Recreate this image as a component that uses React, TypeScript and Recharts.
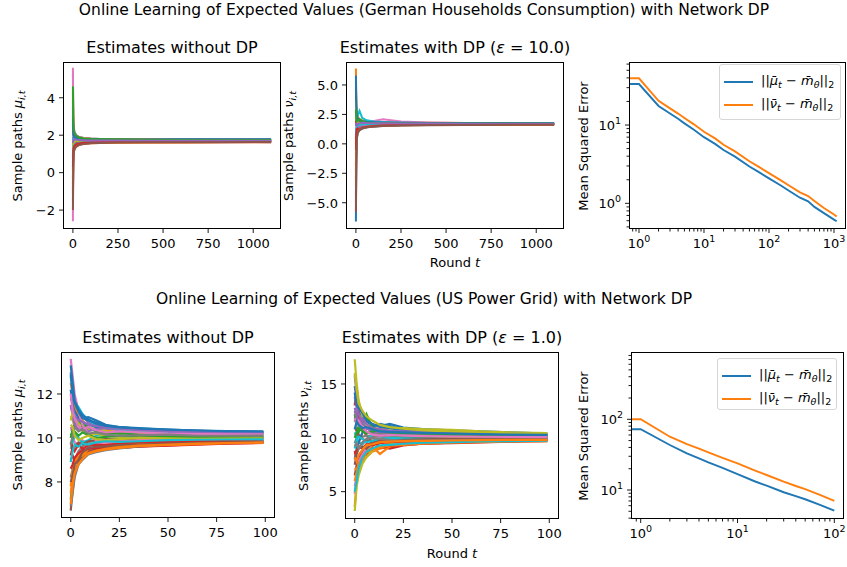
import React from 'react';
import { LineChart, Line, XAxis, YAxis } from 'recharts';

const FONT = '"DejaVu Sans", sans-serif';
const TAB10 = ['#1f77b4', '#ff7f0e', '#2ca02c', '#d62728', '#9467bd', '#8c564b', '#e377c2', '#7f7f7f', '#bcbd22', '#17becf'];

// ---- German households: sample paths (rounds 0..1099)
const tTop = [0, 2, 5, 10, 20, 35, 60, 100, 150, 250, 400, 600, 850, 1099];
const muTop = [
  [3.1, 2.3, 2.0, 1.95, 1.88, 1.84, 1.82, 1.8, 1.79, 1.78, 1.77, 1.76, 1.76, 1.76],
  [-0.6, 1.0, 1.3, 1.4, 1.5, 1.55, 1.58, 1.6, 1.61, 1.62, 1.63, 1.63, 1.64, 1.64],
  [5.3, 2.8, 2.3, 2.1, 1.98, 1.9, 1.85, 1.82, 1.8, 1.79, 1.78, 1.78, 1.77, 1.77],
  [0.5, 1.1, 1.25, 1.3, 1.4, 1.5, 1.55, 1.58, 1.6, 1.62, 1.63, 1.64, 1.64, 1.65],
  [2.6, 2.1, 1.95, 1.88, 1.82, 1.78, 1.76, 1.75, 1.74, 1.73, 1.73, 1.73, 1.72, 1.72],
  [0.9, 1.4, 1.5, 1.55, 1.58, 1.6, 1.62, 1.64, 1.65, 1.66, 1.66, 1.67, 1.67, 1.67],
  [5.6, 3.1, 2.4, 2.15, 2.0, 1.9, 1.85, 1.82, 1.8, 1.79, 1.78, 1.77, 1.77, 1.77],
  [-1.5, 0.7, 1.15, 1.3, 1.45, 1.52, 1.56, 1.59, 1.61, 1.62, 1.63, 1.63, 1.64, 1.63],
  [3.9, 2.5, 2.1, 1.95, 1.85, 1.8, 1.77, 1.76, 1.75, 1.74, 1.74, 1.73, 1.73, 1.73],
  [1.9, 1.5, 1.45, 1.5, 1.55, 1.57, 1.6, 1.62, 1.63, 1.64, 1.65, 1.65, 1.66, 1.66],
  [-0.3, 1.05, 1.35, 1.48, 1.56, 1.6, 1.63, 1.65, 1.66, 1.67, 1.68, 1.68, 1.68, 1.68],
  [4.3, 2.6, 2.2, 2.02, 1.92, 1.86, 1.82, 1.8, 1.79, 1.78, 1.77, 1.76, 1.76, 1.75],
  [-1.1, 0.85, 1.22, 1.38, 1.48, 1.54, 1.58, 1.61, 1.62, 1.63, 1.64, 1.65, 1.65, 1.65],
  [0.1, 1.2, 1.4, 1.5, 1.57, 1.62, 1.65, 1.67, 1.68, 1.69, 1.69, 1.7, 1.7, 1.7],
  [2.3, 1.95, 1.85, 1.8, 1.77, 1.75, 1.74, 1.73, 1.72, 1.72, 1.71, 1.71, 1.71, 1.71],
  [1.4, 1.6, 1.65, 1.68, 1.7, 1.71, 1.71, 1.71, 1.7, 1.7, 1.7, 1.7, 1.69, 1.69],
  [-2.6, 0.5, 1.1, 1.3, 1.42, 1.5, 1.55, 1.58, 1.6, 1.61, 1.62, 1.62, 1.63, 1.62],
  [3.5, 2.3, 2.0, 1.9, 1.83, 1.79, 1.77, 1.76, 1.75, 1.75, 1.74, 1.74, 1.74, 1.74],
  [1.2, 1.55, 1.62, 1.66, 1.69, 1.7, 1.7, 1.71, 1.71, 1.71, 1.7, 1.7, 1.7, 1.7],
  [0.8, 1.3, 1.45, 1.5, 1.54, 1.58, 1.61, 1.64, 1.65, 1.66, 1.67, 1.67, 1.67, 1.67],
  [2.9, 2.2, 1.95, 1.9, 1.85, 1.82, 1.8, 1.79, 1.78, 1.77, 1.77, 1.78, 1.78, 1.78],
  [-0.9, 0.9, 1.2, 1.32, 1.42, 1.5, 1.54, 1.57, 1.59, 1.6, 1.61, 1.61, 1.62, 1.62],
  [4.6, 2.7, 2.25, 2.08, 1.96, 1.88, 1.83, 1.8, 1.79, 1.78, 1.76, 1.75, 1.75, 1.75],
  [0.3, 1.15, 1.35, 1.45, 1.52, 1.56, 1.6, 1.63, 1.64, 1.65, 1.65, 1.66, 1.66, 1.66],
  [1.6, 1.7, 1.75, 1.78, 1.76, 1.74, 1.73, 1.72, 1.72, 1.72, 1.71, 1.71, 1.71, 1.71],
  [-2.0, 0.6, 1.1, 1.28, 1.4, 1.48, 1.53, 1.57, 1.59, 1.61, 1.62, 1.63, 1.63, 1.64],
];
const nuTop = [
  [-6.6, -1.5, 0.6, 1.0, 1.2, 1.3, 1.4, 1.48, 1.53, 1.58, 1.62, 1.64, 1.65, 1.66],
  [6.4, 3.5, 2.6, 2.3, 2.1, 2.0, 1.92, 1.88, 1.85, 1.82, 1.8, 1.78, 1.77, 1.76],
  [5.3, 2.9, 2.2, 2.05, 1.95, 1.88, 1.84, 1.8, 1.78, 1.76, 1.75, 1.74, 1.74, 1.73],
  [-1.8, 0.4, 0.9, 1.1, 1.25, 1.35, 1.42, 1.5, 1.55, 1.6, 1.63, 1.65, 1.66, 1.67],
  [3.2, 2.3, 2.0, 1.9, 1.85, 1.8, 1.78, 1.76, 1.75, 1.74, 1.73, 1.73, 1.72, 1.72],
  [0.4, 1.2, 1.4, 1.5, 1.55, 1.58, 1.6, 1.62, 1.63, 1.65, 1.66, 1.67, 1.67, 1.68],
  [-4.3, -0.8, 0.7, 1.1, 1.4, 1.6, 1.8, 1.95, 2.08, 1.9, 1.82, 1.78, 1.76, 1.75],
  [2.6, 2.0, 1.85, 1.8, 1.76, 1.74, 1.73, 1.72, 1.71, 1.71, 1.7, 1.7, 1.7, 1.7],
  [4.1, 2.4, 1.9, 1.75, 1.7, 1.68, 1.68, 1.69, 1.7, 1.7, 1.7, 1.7, 1.7, 1.7],
  [1.5, 1.8, 2.1, 2.4, 2.8, 2.2, 2.0, 1.9, 1.85, 1.8, 1.77, 1.75, 1.74, 1.74],
  [-3.0, 0.2, 1.0, 1.2, 1.35, 1.42, 1.48, 1.53, 1.57, 1.6, 1.62, 1.63, 1.64, 1.64],
  [0.0, 1.0, 1.3, 1.45, 1.5, 1.55, 1.58, 1.61, 1.63, 1.65, 1.66, 1.66, 1.67, 1.67],
  [-2.3, 0.1, 0.9, 1.15, 1.3, 1.4, 1.47, 1.52, 1.56, 1.6, 1.62, 1.63, 1.64, 1.64],
  [2.0, 1.7, 1.6, 1.55, 1.52, 1.5, 1.52, 1.55, 1.58, 1.61, 1.63, 1.65, 1.66, 1.66],
  [-1.0, 0.8, 1.2, 1.35, 1.45, 1.5, 1.55, 1.58, 1.61, 1.63, 1.65, 1.66, 1.67, 1.67],
  [4.8, 2.7, 2.2, 2.0, 1.9, 1.85, 1.82, 1.8, 1.78, 1.77, 1.76, 1.75, 1.75, 1.75],
  [1.0, 1.4, 1.5, 1.55, 1.6, 1.62, 1.64, 1.66, 1.67, 1.68, 1.68, 1.69, 1.69, 1.69],
  [-5.0, -1.0, 0.5, 0.9, 1.15, 1.3, 1.4, 1.47, 1.52, 1.57, 1.6, 1.62, 1.63, 1.63],
  [3.6, 2.2, 1.95, 1.85, 1.8, 1.77, 1.75, 1.74, 1.73, 1.72, 1.72, 1.72, 1.71, 1.71],
  [0.7, 1.3, 1.5, 1.58, 1.62, 1.65, 1.67, 1.68, 1.69, 1.69, 1.7, 1.7, 1.7, 1.7],
  [5.8, 3.2, 2.4, 2.15, 2.0, 1.92, 1.87, 1.83, 1.81, 1.79, 1.78, 1.77, 1.77, 1.77],
  [-3.6, -0.3, 0.8, 1.05, 1.25, 1.35, 1.43, 1.5, 1.55, 1.59, 1.61, 1.62, 1.63, 1.63],
  [2.9, 2.1, 1.9, 1.95, 2.1, 1.9, 1.82, 1.78, 1.76, 1.74, 1.73, 1.72, 1.72, 1.72],
  [-0.5, 0.9, 1.25, 1.3, 1.2, 1.38, 1.45, 1.52, 1.58, 1.62, 1.64, 1.65, 1.66, 1.66],
  [1.8, 1.5, 1.65, 1.7, 1.75, 1.8, 1.77, 1.75, 1.74, 1.73, 1.72, 1.71, 1.7, 1.7],
  [-5.8, -1.2, 0.4, 0.95, 1.2, 1.32, 1.4, 1.47, 1.52, 1.56, 1.59, 1.61, 1.62, 1.62],
];

// ---- US power grid: sample paths (rounds 0..99)
const tBot = [0, 1, 2, 4, 6, 9, 13, 18, 25, 35, 50, 65, 80, 99];
const muBot = [
  [11.8, 11.6, 11.3, 11.0, 10.9, 10.95, 10.8, 10.6, 10.5, 10.45, 10.38, 10.33, 10.3, 10.28],
  [12.5, 12.0, 11.4, 11.1, 10.8, 10.5, 10.3, 10.35, 10.4, 10.3, 10.25, 10.28, 10.24, 10.22],
  [7.2, 8.0, 8.5, 8.8, 9.1, 9.3, 9.4, 9.55, 9.6, 9.7, 9.75, 9.8, 9.82, 9.84],
  [9.0, 9.2, 9.0, 9.1, 9.3, 9.35, 9.45, 9.5, 9.55, 9.62, 9.66, 9.72, 9.75, 9.78],
  [13.0, 12.4, 11.8, 11.3, 11.0, 10.7, 10.6, 10.5, 10.45, 10.4, 10.35, 10.3, 10.28, 10.26],
  [6.7, 7.6, 8.3, 8.9, 9.2, 9.4, 9.5, 9.6, 9.7, 9.75, 9.8, 9.85, 9.88, 9.9],
  [10.5, 10.2, 9.8, 9.7, 9.9, 9.6, 9.75, 9.8, 9.7, 9.78, 9.85, 9.88, 9.9, 9.93],
  [8.2, 8.6, 9.0, 9.4, 9.6, 9.8, 9.9, 9.95, 10.0, 10.02, 10.0, 10.02, 10.03, 10.05],
  [11.0, 10.8, 10.5, 10.7, 10.5, 10.4, 10.45, 10.3, 10.25, 10.2, 10.18, 10.15, 10.14, 10.12],
  [9.5, 9.8, 10.2, 10.0, 9.8, 9.9, 10.1, 10.2, 10.05, 9.95, 9.9, 9.85, 9.82, 9.8],
  [12.2, 11.5, 11.2, 10.9, 10.7, 10.6, 10.5, 10.45, 10.4, 10.35, 10.3, 10.25, 10.22, 10.2],
  [7.8, 8.5, 8.9, 9.3, 9.2, 9.5, 9.6, 9.7, 9.65, 9.75, 9.85, 9.9, 9.92, 9.95],
  [10.0, 10.4, 10.6, 10.8, 10.6, 10.5, 10.3, 10.2, 10.22, 10.15, 10.1, 10.08, 10.06, 10.05],
  [8.6, 8.8, 9.1, 9.3, 9.45, 9.5, 9.55, 9.5, 9.55, 9.6, 9.65, 9.7, 9.74, 9.77],
  [11.5, 11.0, 10.6, 10.4, 10.55, 10.3, 10.4, 10.45, 10.35, 10.3, 10.28, 10.25, 10.22, 10.2],
  [9.8, 9.5, 9.6, 9.8, 9.7, 9.85, 9.9, 9.95, 9.9, 9.92, 9.95, 9.97, 9.98, 10.0],
  [13.6, 12.8, 12.0, 11.2, 10.6, 10.2, 9.9, 9.8, 9.85, 9.9, 9.92, 9.95, 9.96, 9.97],
  [6.9, 7.5, 8.2, 8.8, 9.0, 9.25, 9.35, 9.45, 9.52, 9.62, 9.7, 9.78, 9.82, 9.86],
  [10.8, 11.2, 11.0, 10.6, 10.3, 10.1, 10.2, 10.1, 10.05, 10.08, 10.1, 10.12, 10.1, 10.08],
  [12.8, 12.2, 11.6, 11.4, 11.1, 10.8, 10.6, 10.5, 10.4, 10.3, 10.2, 10.15, 10.12, 10.1],
  [12.9, 12.0, 11.6, 11.2, 10.9, 10.8, 10.7, 10.55, 10.5, 10.42, 10.36, 10.32, 10.29, 10.27],
  [7.5, 8.2, 8.7, 9.1, 9.25, 9.3, 9.4, 9.48, 9.55, 9.64, 9.68, 9.72, 9.76, 9.79],
  [10.2, 10.0, 10.3, 10.1, 10.25, 10.15, 10.0, 10.05, 10.12, 10.08, 10.05, 10.06, 10.04, 10.03],
  [9.2, 9.6, 9.4, 9.7, 9.5, 9.65, 9.7, 9.68, 9.75, 9.8, 9.82, 9.85, 9.86, 9.88],
  [11.3, 11.4, 11.0, 10.8, 10.75, 10.6, 10.55, 10.5, 10.42, 10.35, 10.3, 10.27, 10.25, 10.24],
  [8.0, 8.3, 8.8, 9.0, 9.35, 9.55, 9.6, 9.62, 9.68, 9.7, 9.74, 9.78, 9.8, 9.82],
  [12.0, 11.2, 10.9, 10.5, 10.4, 10.5, 10.35, 10.25, 10.3, 10.25, 10.2, 10.18, 10.17, 10.16],
  [9.7, 10.1, 10.5, 10.3, 10.4, 10.2, 10.25, 10.15, 10.1, 10.12, 10.15, 10.1, 10.1, 10.11],
  [10.6, 10.5, 10.1, 9.9, 10.0, 10.1, 9.95, 9.9, 9.95, 10.0, 9.98, 9.96, 9.97, 9.98],
  [8.9, 9.4, 9.7, 9.6, 9.75, 9.7, 9.8, 9.85, 9.82, 9.85, 9.9, 9.92, 9.93, 9.94],
  [13.3, 12.5, 11.7, 11.3, 11.05, 10.85, 10.65, 10.55, 10.48, 10.43, 10.38, 10.34, 10.31, 10.3],
  [7.0, 7.9, 8.4, 8.8, 9.05, 9.3, 9.42, 9.5, 9.58, 9.65, 9.7, 9.74, 9.77, 9.8],
];
const nuBot = [
  [14.8, 13.5, 12.6, 11.9, 11.5, 11.2, 11.1, 11.3, 10.95, 10.8, 10.7, 10.6, 10.5, 10.4],
  [3.6, 6.0, 7.2, 7.8, 8.2, 8.7, 9.0, 9.2, 9.4, 9.55, 9.65, 9.72, 9.78, 9.82],
  [11.5, 12.5, 11.8, 11.2, 12.0, 11.0, 10.7, 10.6, 10.5, 10.4, 10.35, 10.3, 10.25, 10.22],
  [13.0, 14.8, 12.0, 10.8, 10.2, 9.6, 9.2, 9.0, 9.3, 9.45, 9.55, 9.62, 9.68, 9.72],
  [15.8, 14.0, 13.0, 12.0, 11.0, 10.5, 10.3, 10.2, 10.1, 10.05, 10.0, 10.02, 10.0, 10.0],
  [6.5, 7.5, 8.2, 8.8, 9.3, 9.6, 9.8, 9.85, 9.9, 9.95, 9.95, 9.97, 9.98, 9.98],
  [5.5, 6.5, 7.0, 8.0, 8.5, 8.9, 9.2, 9.4, 9.5, 9.6, 9.7, 9.75, 9.8, 9.83],
  [9.5, 10.0, 10.3, 10.1, 10.2, 10.15, 10.1, 10.05, 10.0, 10.0, 10.02, 10.05, 10.06, 10.07],
  [17.3, 15.0, 13.5, 12.0, 11.2, 10.8, 10.9, 10.85, 10.9, 10.8, 10.75, 10.6, 10.5, 10.43],
  [10.5, 10.0, 9.6, 9.4, 9.8, 10.3, 10.5, 10.4, 10.3, 10.2, 10.1, 10.05, 10.02, 10.0],
  [8.0, 9.0, 9.5, 10.5, 10.8, 11.0, 11.3, 11.1, 10.8, 10.6, 10.5, 10.4, 10.35, 10.3],
  [7.2, 7.0, 7.5, 8.3, 8.8, 9.2, 8.5, 9.2, 9.4, 9.5, 9.6, 9.65, 9.7, 9.75],
  [12.2, 11.0, 10.5, 11.5, 12.2, 11.0, 10.4, 10.2, 10.15, 10.1, 10.08, 10.1, 10.12, 10.12],
  [8.8, 8.0, 7.6, 8.6, 8.4, 9.0, 9.1, 9.25, 9.35, 9.45, 9.5, 9.58, 9.65, 9.7],
  [13.8, 12.8, 12.2, 11.4, 10.9, 10.6, 10.5, 10.45, 10.4, 10.3, 10.25, 10.2, 10.18, 10.15],
  [11.0, 10.6, 10.2, 9.9, 9.7, 9.75, 9.8, 9.85, 9.9, 9.92, 9.95, 9.95, 9.93, 9.92],
  [4.8, 6.2, 7.8, 8.5, 9.0, 9.4, 9.6, 9.7, 9.75, 9.8, 9.85, 9.88, 9.9, 9.9],
  [12.5, 11.8, 11.2, 10.7, 10.5, 10.4, 10.35, 10.3, 10.25, 10.22, 10.2, 10.18, 10.16, 10.15],
  [3.2, 5.5, 6.5, 7.6, 8.2, 8.8, 9.2, 9.5, 9.7, 9.85, 9.95, 10.0, 10.02, 10.03],
  [9.0, 9.8, 10.1, 9.9, 9.6, 9.7, 9.9, 10.0, 9.95, 9.9, 9.88, 9.86, 9.85, 9.84],
  [14.2, 13.0, 12.8, 12.3, 11.6, 11.3, 11.0, 10.9, 10.7, 10.6, 10.55, 10.45, 10.38, 10.35],
  [6.0, 6.8, 7.6, 8.0, 8.6, 8.9, 9.1, 9.3, 9.35, 9.45, 9.55, 9.6, 9.66, 9.7],
  [10.0, 10.5, 10.9, 10.6, 10.4, 10.6, 10.7, 10.5, 10.45, 10.4, 10.35, 10.3, 10.28, 10.26],
  [8.5, 8.8, 9.2, 9.0, 9.4, 9.3, 9.5, 9.6, 9.65, 9.7, 9.75, 9.78, 9.8, 9.8],
  [12.8, 12.0, 11.5, 11.8, 11.3, 10.9, 10.8, 10.65, 10.6, 10.55, 10.5, 10.42, 10.36, 10.33],
  [7.5, 8.5, 9.0, 9.2, 9.0, 9.5, 9.7, 9.75, 9.8, 9.85, 9.9, 9.93, 9.95, 9.95],
  [11.8, 11.2, 11.6, 11.0, 10.6, 10.3, 10.2, 10.25, 10.2, 10.15, 10.12, 10.1, 10.08, 10.07],
  [9.2, 9.5, 9.0, 9.6, 9.9, 10.0, 9.9, 9.8, 9.75, 9.75, 9.78, 9.8, 9.82, 9.85],
  [16.0, 14.5, 13.2, 12.5, 12.0, 11.6, 11.2, 11.0, 10.85, 10.7, 10.6, 10.5, 10.42, 10.38],
  [5.0, 6.0, 7.2, 8.2, 8.7, 9.0, 9.3, 9.35, 9.45, 9.55, 9.6, 9.66, 9.7, 9.74],
  [10.8, 11.5, 11.2, 10.9, 11.0, 10.8, 10.6, 10.55, 10.5, 10.45, 10.4, 10.35, 10.3, 10.28],
  [8.2, 7.8, 8.4, 8.9, 9.3, 9.4, 9.6, 9.65, 9.7, 9.72, 9.75, 9.78, 9.8, 9.8],
];

// ---- Mean squared error (log-log); first round sits left of the axis and is clipped
const tMseTop = [0.5, 1, 2, 3, 4, 5, 7, 10, 15, 20, 30, 50, 70, 100, 150, 200, 300, 400, 500, 700, 1000, 1099];
const mseMuTop = [33.4, 33.4, 17.5, 14.0, 12.0, 10.5, 8.7, 7.0, 5.7, 4.8, 3.95, 2.95, 2.5, 2.08, 1.7, 1.46, 1.18, 1.06, 0.9, 0.75, 0.62, 0.59];
const mseNuTop = [39.5, 39.5, 20.4, 16.3, 14.0, 12.3, 10.2, 8.2, 6.7, 5.6, 4.6, 3.45, 2.92, 2.43, 1.98, 1.7, 1.38, 1.24, 1.07, 0.87, 0.72, 0.68];
const tMseBot = [0.5, 1, 2, 3, 4, 5, 7, 10, 15, 20, 30, 40, 50, 70, 100];
const mseMuBot = [72.3, 72.3, 43.3, 33.0, 28.0, 24.5, 20.5, 16.8, 13.3, 11.5, 9.3, 8.2, 7.4, 6.2, 5.1];
const mseNuBot = [100, 100, 56.7, 44.7, 38.5, 34.0, 28.5, 23.8, 19.0, 16.3, 13.1, 11.4, 10.3, 8.6, 7.0];

// ---- ticks
const xTicksTop = [0, 250, 500, 750, 1000];
const xTicksBot = [0, 25, 50, 75, 100];
const yTicksP1 = [-2, 0, 2, 4];
const yTicksP2 = [-5, -2.5, 0, 2.5, 5];
const yTicksP4 = [8, 10, 12];
const yTicksP5 = [5, 10, 15];
const xMajorP3 = [1, 10, 100, 1000];
const xMinorP3 = [0.8, 0.9, 2, 3, 4, 5, 6, 7, 8, 9, 20, 30, 40, 50, 60, 70, 80, 90, 200, 300, 400, 500, 600, 700, 800, 900];
const yMajorP3 = [1, 10];
const yMinorP3 = [0.5, 0.6, 0.7, 0.8, 0.9, 2, 3, 4, 5, 6, 7, 8, 9, 20, 30, 40, 50, 60];
const xMajorP6 = [1, 10, 100];
const xMinorP6 = [0.9, 2, 3, 4, 5, 6, 7, 8, 9, 20, 30, 40, 50, 60, 70, 80, 90];
const yMajorP6 = [10, 100];
const yMinorP6 = [4, 5, 6, 7, 8, 9, 20, 30, 40, 50, 60, 70, 80, 90, 200, 300, 400, 500, 600, 700, 800];

// plot boxes: left, top, right, bottom
const BOX = {
  p1: [63, 62, 281, 229],
  p2: [346, 62, 564, 229],
  p3: [629, 62, 846, 229],
  p4: [61, 352, 275, 518],
  p5: [345, 352, 559, 519],
  p6: [631, 352, 844, 519],
};
const YW = 50;
const XH = 26;
const MT = 6;
const MR = 8;

const minus = (s: string) => s.replace('-', '\u2212');
const fmtInt = (v: number) => minus(String(v));
const fmtOne = (v: number) => minus(v.toFixed(1));
const fmtPow = (v: number) => (
  <>
    <tspan>10</tspan>
    <tspan dy={-6} fontSize={9.5}>{Math.round(Math.log10(v))}</tspan>
  </>
);

const isIn = (arr: number[], v: number) => arr.some((m) => Math.abs(m - v) < 1e-9);

function makeXTick(major: number[], fmt: (v: number) => React.ReactNode) {
  return (props: any) => {
    const { x, y, payload } = props;
    const v = payload.value;
    const big = isIn(major, v);
    return (
      <g>
        <line x1={x} x2={x} y1={y} y2={y + (big ? 4 : 2.5)} stroke="#000" strokeWidth={0.9} />
        {big && (
          <text x={x} y={y + 9} dy="0.74em" textAnchor="middle" fontSize={13} fontFamily={FONT} fill="#000">
            {fmt(v)}
          </text>
        )}
      </g>
    );
  };
}

function makeYTick(major: number[], fmt: (v: number) => React.ReactNode) {
  return (props: any) => {
    const { x, y, payload } = props;
    const v = payload.value;
    const big = isIn(major, v);
    return (
      <g>
        <line x1={x} x2={x - (big ? 4 : 2.5)} y1={y} y2={y} stroke="#000" strokeWidth={0.9} />
        {big && (
          <text x={x - 8} y={y} dy="0.37em" textAnchor="end" fontSize={13} fontFamily={FONT} fill="#000">
            {fmt(v)}
          </text>
        )}
      </g>
    );
  };
}

type PanelProps = {
  box: number[];
  data: Record<string, number>[];
  keys: string[];
  colors: string[];
  xDomain: [number, number];
  yDomain: [number, number];
  xTicks: number[];
  yTicks: number[];
  xMajor: number[];
  yMajor: number[];
  xFmt: (v: number) => React.ReactNode;
  yFmt: (v: number) => React.ReactNode;
  width?: number;
  log?: boolean;
};

function Panel({ box, data, keys, colors, xDomain, yDomain, xTicks, yTicks, xMajor, yMajor, xFmt, yFmt, width = 2, log }: PanelProps) {
  const [L, T, R, B] = box;
  const scale = log ? 'log' : 'linear';
  return (
    <>
      <div style={{ position: 'absolute', left: L - YW, top: T - MT }}>
        <LineChart width={R - L + YW + MR} height={B - T + MT + XH} data={data} margin={{ top: MT, right: MR, bottom: 0, left: 0 }}>
          <XAxis
            dataKey="t"
            type="number"
            scale={scale}
            domain={xDomain}
            allowDataOverflow
            ticks={xTicks}
            interval={0}
            height={XH}
            axisLine={false}
            tickLine={false}
            tickSize={0}
            tickMargin={0}
            tick={makeXTick(xMajor, xFmt)}
          />
          <YAxis
            type="number"
            scale={scale}
            domain={yDomain}
            allowDataOverflow
            ticks={yTicks}
            interval={0}
            width={YW}
            axisLine={false}
            tickLine={false}
            tickSize={0}
            tickMargin={0}
            tick={makeYTick(yMajor, yFmt)}
          />
          {keys.map((k, i) => (
            <Line key={k} dataKey={k} stroke={colors[i % colors.length]} strokeWidth={width} dot={false} activeDot={false} isAnimationActive={false} />
          ))}
        </LineChart>
      </div>
      <div
        style={{
          position: 'absolute',
          left: L,
          top: T,
          width: R - L,
          height: B - T,
          border: '1px solid #000',
          boxSizing: 'border-box',
          pointerEvents: 'none',
        }}
      />
    </>
  );
}

const pathRows = (t: number[], paths: number[][]) =>
  t.map((tv, i) => {
    const row: Record<string, number> = { t: tv };
    paths.forEach((p, k) => {
      row['p' + k] = p[i];
    });
    return row;
  });
const pathKeys = (paths: number[][]) => paths.map((_, k) => 'p' + k);

const mseRows = (t: number[], mu: number[], nu: number[]) => t.map((tv, i) => ({ t: tv, mu: mu[i], nu: nu[i] }));

const sub = (s: string, italic = true) => (
  <span style={{ fontSize: 9.5, verticalAlign: -3, fontStyle: italic ? 'italic' : 'normal' }}>{s}</span>
);

function Label({ cx, cy, size = 13, rotate = false, children }: { cx: number; cy: number; size?: number; rotate?: boolean; children: React.ReactNode }) {
  return (
    <div
      style={{
        position: 'absolute',
        left: cx,
        top: cy,
        transform: `translate(-50%, -50%)${rotate ? ' rotate(-90deg)' : ''}`,
        whiteSpace: 'nowrap',
        fontFamily: FONT,
        fontSize: size,
        lineHeight: 1,
        color: '#000',
      }}
    >
      {children}
    </div>
  );
}

function MseLegend({ left, top, width, height }: { left: number; top: number; width: number; height: number }) {
  const row = (color: string, sym: string) => (
    <div style={{ display: 'flex', alignItems: 'center', height: 23 }}>
      <div style={{ width: 29, height: 2, background: color, marginRight: 8 }} />
      <span>
        ||<i>{sym}</i>
        {sub('t')} − <i>m&#x0304;</i>
        {sub('θ')}||{sub('2', false)}
      </span>
    </div>
  );
  return (
    <div
      style={{
        position: 'absolute',
        left,
        top,
        width,
        height,
        boxSizing: 'border-box',
        border: '1px solid #d6d6d6',
        borderRadius: 3,
        background: 'rgba(255,255,255,0.85)',
        padding: '5px 0 0 4px',
        fontFamily: FONT,
        fontSize: 13,
        color: '#000',
        lineHeight: 1,
      }}
    >
      {row('#1f77b4', 'μ\u0304')}
      {row('#ff7f0e', 'ν\u0304')}
    </div>
  );
}

const muSym = (
  <>
    Sample paths <i>μ</i>
    {sub('i,t')}
  </>
);
const nuSym = (
  <>
    Sample paths <i>ν</i>
    {sub('i,t')}
  </>
);

export default function App() {
  const c = (b: number[]) => (b[0] + b[2]) / 2;
  const m = (b: number[]) => (b[1] + b[3]) / 2;
  return (
    <div style={{ position: 'absolute', left: 0, top: 0, width: 847, height: 567, overflow: 'hidden', background: '#fff' }}>
      <Label cx={424} cy={11} size={15.5}>
        Online Learning of Expected Values (German Households Consumption) with Network DP
      </Label>
      <Label cx={424} cy={300} size={15.5}>
        Online Learning of Expected Values (US Power Grid) with Network DP
      </Label>

      <Panel
        box={BOX.p1}
        data={pathRows(tTop, muTop)}
        keys={pathKeys(muTop)}
        colors={TAB10}
        xDomain={[-55, 1154]}
        yDomain={[-3.01, 5.91]}
        xTicks={xTicksTop}
        yTicks={yTicksP1}
        xMajor={xTicksTop}
        yMajor={yTicksP1}
        xFmt={fmtInt}
        yFmt={fmtInt}
      />
      <Panel
        box={BOX.p2}
        data={pathRows(tTop, nuTop)}
        keys={pathKeys(nuTop)}
        colors={TAB10}
        xDomain={[-55, 1154]}
        yDomain={[-7.23, 6.95]}
        xTicks={xTicksTop}
        yTicks={yTicksP2}
        xMajor={xTicksTop}
        yMajor={yTicksP2}
        xFmt={fmtInt}
        yFmt={fmtOne}
      />
      <Panel
        box={BOX.p3}
        data={mseRows(tMseTop, mseMuTop, mseNuTop)}
        keys={['mu', 'nu']}
        colors={['#1f77b4', '#ff7f0e']}
        xDomain={[0.702, 1530]}
        yDomain={[0.47, 63.8]}
        xTicks={[...xMajorP3, ...xMinorP3]}
        yTicks={[...yMajorP3, ...yMinorP3]}
        xMajor={xMajorP3}
        yMajor={yMajorP3}
        xFmt={fmtPow}
        yFmt={fmtPow}
        width={1.9}
        log
      />
      <Panel
        box={BOX.p4}
        data={pathRows(tBot, muBot)}
        keys={pathKeys(muBot)}
        colors={TAB10}
        xDomain={[-5, 105]}
        yDomain={[6.36, 13.91]}
        xTicks={xTicksBot}
        yTicks={yTicksP4}
        xMajor={xTicksBot}
        yMajor={yTicksP4}
        xFmt={fmtInt}
        yFmt={fmtInt}
        width={2.2}
      />
      <Panel
        box={BOX.p5}
        data={pathRows(tBot, nuBot)}
        keys={pathKeys(nuBot)}
        colors={TAB10}
        xDomain={[-5, 105]}
        yDomain={[2.46, 17.97]}
        xTicks={xTicksBot}
        yTicks={yTicksP5}
        xMajor={xTicksBot}
        yMajor={yTicksP5}
        xFmt={fmtInt}
        yFmt={fmtInt}
        width={2.2}
      />
      <Panel
        box={BOX.p6}
        data={mseRows(tMseBot, mseMuBot, mseNuBot)}
        keys={['mu', 'nu']}
        colors={['#1f77b4', '#ff7f0e']}
        xDomain={[0.794, 125.9]}
        yDomain={[3.89, 895]}
        xTicks={[...xMajorP6, ...xMinorP6]}
        yTicks={[...yMajorP6, ...yMinorP6]}
        xMajor={xMajorP6}
        yMajor={yMajorP6}
        xFmt={fmtPow}
        yFmt={fmtPow}
        width={1.9}
        log
      />

      <Label cx={c(BOX.p1)} cy={47.5} size={16}>Estimates without DP</Label>
      <Label cx={c(BOX.p2)} cy={47.5} size={16}>
        Estimates with DP (<i>ε</i> = 10.0)
      </Label>
      <Label cx={c(BOX.p4)} cy={337.5} size={16}>Estimates without DP</Label>
      <Label cx={c(BOX.p5)} cy={337.5} size={16}>
        Estimates with DP (<i>ε</i> = 1.0)
      </Label>

      <Label cx={18.8} cy={m(BOX.p1)} rotate>{muSym}</Label>
      <Label cx={290} cy={m(BOX.p2)} rotate>{nuSym}</Label>
      <Label cx={582.5} cy={m(BOX.p3)} rotate>Mean Squared Error</Label>
      <Label cx={18.8} cy={m(BOX.p4)} rotate>{muSym}</Label>
      <Label cx={305} cy={m(BOX.p5)} rotate>{nuSym}</Label>
      <Label cx={583} cy={m(BOX.p6)} rotate>Mean Squared Error</Label>

      <Label cx={c(BOX.p2)} cy={262}>
        Round <i>t</i>
      </Label>
      <Label cx={c(BOX.p5)} cy={553}>
        Round <i>t</i>
      </Label>

      <MseLegend left={719} top={64} width={122} height={56} />
      <MseLegend left={717} top={358} width={120} height={52} />
    </div>
  );
}
